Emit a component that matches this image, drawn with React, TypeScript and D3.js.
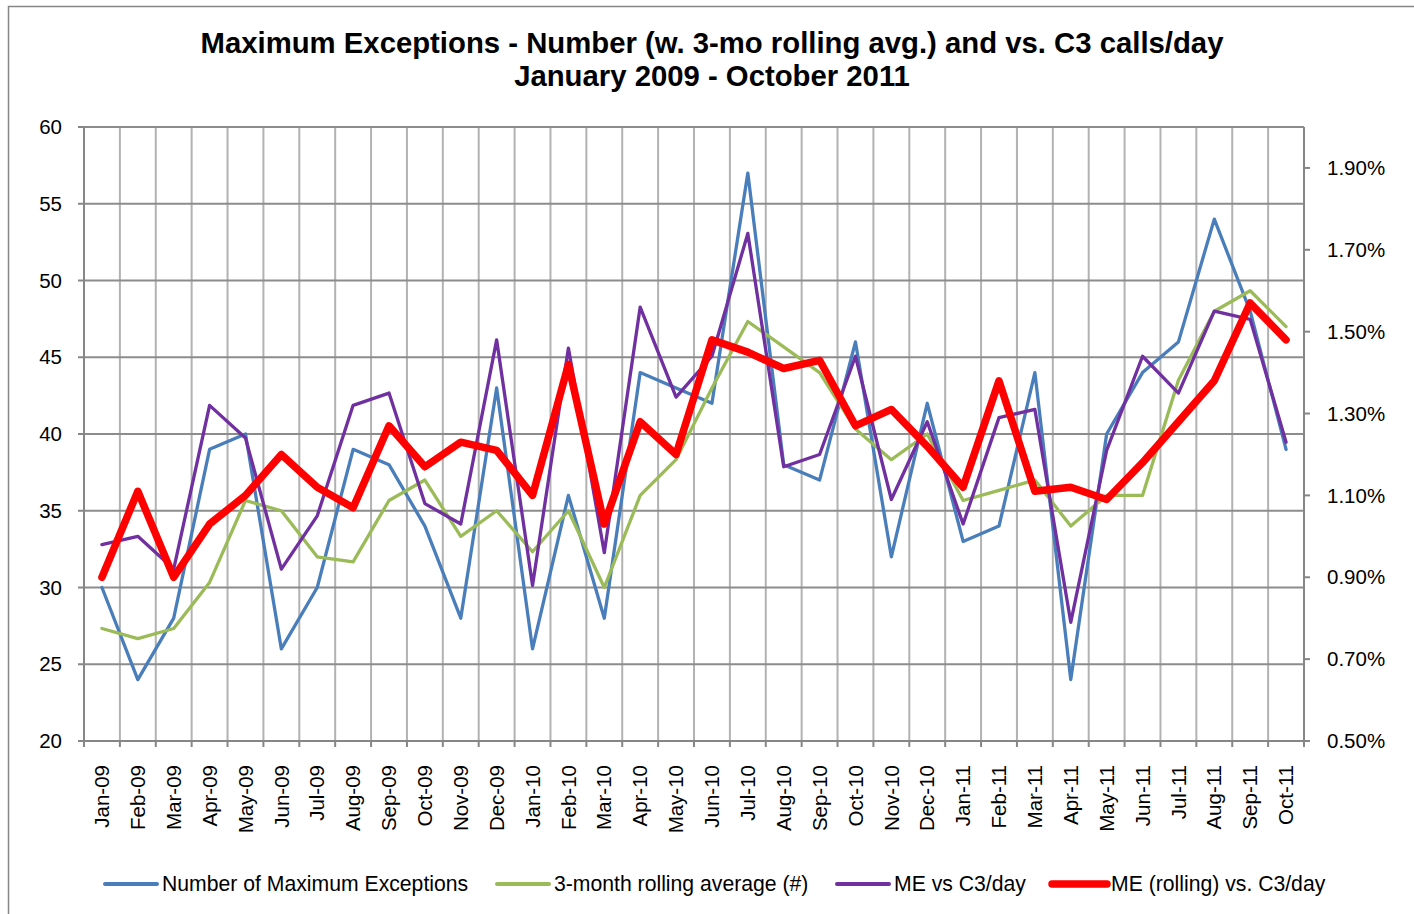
import React from 'react';
import * as d3 from 'd3';

const months = [
  'Jan-09', 'Feb-09', 'Mar-09', 'Apr-09', 'May-09', 'Jun-09', 'Jul-09', 'Aug-09', 'Sep-09', 'Oct-09', 'Nov-09', 'Dec-09',
  'Jan-10', 'Feb-10', 'Mar-10', 'Apr-10', 'May-10', 'Jun-10', 'Jul-10', 'Aug-10', 'Sep-10', 'Oct-10', 'Nov-10', 'Dec-10',
  'Jan-11', 'Feb-11', 'Mar-11', 'Apr-11', 'May-11', 'Jun-11', 'Jul-11', 'Aug-11', 'Sep-11', 'Oct-11',
];

// number of maximum exceptions (left axis)
const maxExceptions = [
  30, 24, 28, 39, 40, 26, 30, 39, 38, 34, 28, 43,
  26, 36, 28, 44, 43, 42, 57, 38, 37, 46, 32, 42,
  33, 34, 44, 24, 40, 44, 46, 54, 48, 39,
];

// 3-month rolling average (left axis)
const rollingAvg = [
  27.33, 26.67, 27.33, 30.33, 35.67, 35, 32, 31.67, 35.67, 37, 33.33, 35,
  32.33, 35, 30, 36, 38.33, 43, 47.33, 45.67, 44, 40.33, 38.33, 40,
  35.67, 36.33, 37, 34, 36, 36, 43.5, 48, 49.33, 47,
];

// ME vs C3/day, percent (right axis)
const meVsC3 = [
  0.98, 1.0, 0.92, 1.32, 1.24, 0.92, 1.05, 1.32, 1.35, 1.08, 1.03, 1.48,
  0.88, 1.46, 0.96, 1.56, 1.34, 1.44, 1.74, 1.17, 1.2, 1.44, 1.09, 1.28,
  1.03, 1.29, 1.31, 0.79, 1.21, 1.44, 1.35, 1.55, 1.53, 1.23,
];

// ME (rolling) vs C3/day, percent (right axis)
const meRolling = [
  0.9, 1.11, 0.9, 1.03, 1.1, 1.2, 1.12, 1.07, 1.27, 1.17, 1.23, 1.21,
  1.1, 1.42, 1.03, 1.28, 1.2, 1.48, 1.45, 1.41, 1.43, 1.27, 1.31, 1.22,
  1.12, 1.38, 1.11, 1.12, 1.09, 1.18, 1.28, 1.38, 1.57, 1.48,
];

const leftTicks = [20, 25, 30, 35, 40, 45, 50, 55, 60];
const rightTicks = [0.5, 0.7, 0.9, 1.1, 1.3, 1.5, 1.7, 1.9];

const W = 1414;
const H = 914;
const plot = { left: 84, right: 1304, top: 127, bottom: 741 };
const FONT = 'Liberation Sans, Arial, sans-serif';

export default function App() {
  const x = d3.scaleBand<string>().domain(months).range([plot.left, plot.right]).padding(0);
  const yL = d3.scaleLinear().domain([20, 60]).range([plot.bottom, plot.top]);
  const yR = d3.scaleLinear().domain([0.5, 2.0]).range([plot.bottom, plot.top]);
  const cx = (m: string) => (x(m) || 0) + x.bandwidth() / 2;

  const lineL = d3.line<number>().x((_, i) => cx(months[i])).y(d => yL(d));
  const lineR = d3.line<number>().x((_, i) => cx(months[i])).y(d => yR(d));

  const series = [
    { name: 'Number of Maximum Exceptions', d: lineL(maxExceptions), color: '#4a7ebb', w: 3.3 },
    { name: '3-month rolling average (#)', d: lineL(rollingAvg), color: '#9bbb59', w: 3.3 },
    { name: 'ME vs C3/day', d: lineR(meVsC3), color: '#7030a0', w: 3.3 },
    { name: 'ME (rolling) vs. C3/day', d: lineR(meRolling), color: '#ff0000', w: 7.5 },
  ];
  const legendX = [105, 497, 837, 1052];

  const boundaries = d3.range(months.length + 1).map(k => plot.left + k * x.step());

  return (
    <svg width={W} height={H} style={{ position: 'absolute', left: 0, top: 0 }} fontFamily={FONT}>
      <rect x={0} y={0} width={W} height={H} fill="#fff" />
      <rect x={8.5} y={6.5} width={W + 10} height={H + 10} fill="none" stroke="#868686" strokeWidth={1.5} />

      {/* title */}
      <text x={712} y={53} textAnchor="middle" fontSize={29.3} fontWeight="bold">
        Maximum Exceptions - Number (w. 3-mo rolling avg.) and vs. C3 calls/day
      </text>
      <text x={712} y={86} textAnchor="middle" fontSize={29.3} fontWeight="bold">
        January 2009 - October 2011
      </text>

      {/* vertical gridlines */}
      {boundaries.slice(1, -1).map((bx, k) => (
        <line key={'v' + k} x1={bx} x2={bx} y1={plot.top} y2={plot.bottom} stroke="#b2b2b2" strokeWidth={2} />
      ))}
      {/* horizontal gridlines */}
      {leftTicks.map(t => (
        <line key={'h' + t} x1={plot.left} x2={plot.right} y1={yL(t)} y2={yL(t)} stroke="#8c8c8c" strokeWidth={2} />
      ))}

      {/* axes */}
      <line x1={plot.left} x2={plot.left} y1={plot.top} y2={plot.bottom} stroke="#868686" strokeWidth={2} />
      <line x1={plot.right} x2={plot.right} y1={plot.top} y2={plot.bottom} stroke="#868686" strokeWidth={2} />
      <line x1={plot.left} x2={plot.right} y1={plot.bottom} y2={plot.bottom} stroke="#868686" strokeWidth={2} />
      {boundaries.map((bx, k) => (
        <line key={'bt' + k} x1={bx} x2={bx} y1={plot.bottom} y2={plot.bottom + 6} stroke="#868686" strokeWidth={2} />
      ))}
      {leftTicks.map(t => (
        <g key={'lt' + t}>
          <line x1={plot.left - 6} x2={plot.left} y1={yL(t)} y2={yL(t)} stroke="#868686" strokeWidth={2} />
          <text x={62} y={yL(t)} dy="0.35em" textAnchor="end" fontSize={20.5}>{t}</text>
        </g>
      ))}
      {rightTicks.map(t => (
        <g key={'rt' + t}>
          <line x1={plot.right} x2={plot.right + 6} y1={yR(t)} y2={yR(t)} stroke="#868686" strokeWidth={2} />
          <text x={1327} y={yR(t)} dy="0.35em" textAnchor="start" fontSize={20.5}>{t.toFixed(2) + '%'}</text>
        </g>
      ))}
      {months.map(m => (
        <text key={m} transform={`translate(${cx(m)},765) rotate(-90)`} dy="0.35em" textAnchor="end" fontSize={20.5}>
          {m}
        </text>
      ))}

      {/* series */}
      {series.map(s => (
        <path key={s.name} d={s.d || ''} fill="none" stroke={s.color} strokeWidth={s.w} strokeLinejoin="round" strokeLinecap="round" />
      ))}

      {/* legend */}
      {series.map((s, i) => (
        <g key={'lg' + i}>
          <line x1={legendX[i]} x2={legendX[i] + (s.w > 5 ? 55 : 52)} y1={884} y2={884} stroke={s.color} strokeWidth={s.w > 5 ? s.w : 4} strokeLinecap="round" />
          <text x={legendX[i] + (s.w > 5 ? 59 : 57)} y={884} dy="0.35em" fontSize={21.2}>{s.name}</text>
        </g>
      ))}
    </svg>
  );
}
